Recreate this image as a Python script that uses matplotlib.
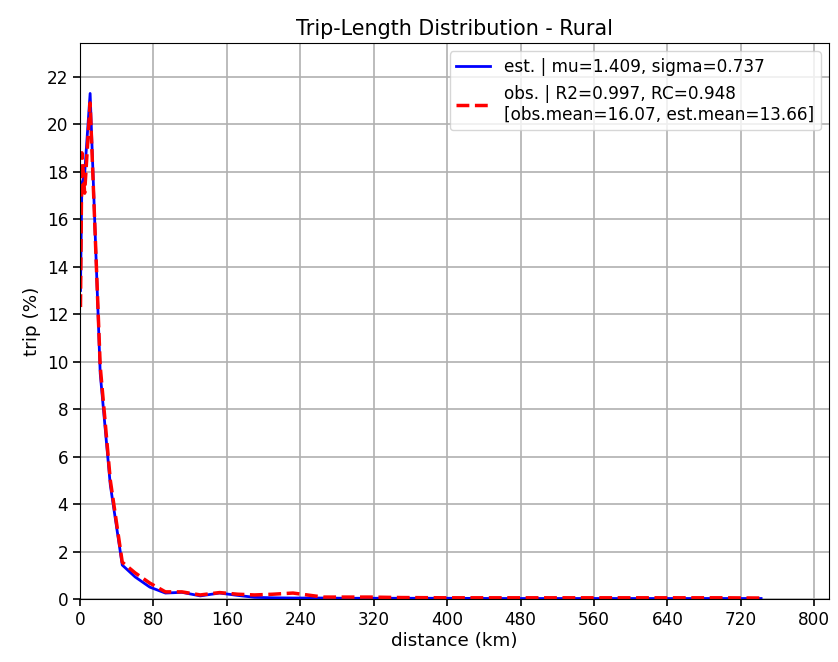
import matplotlib
matplotlib.use("Agg")
import matplotlib.pyplot as plt
import numpy as np

# distance bins (km)
dist = [0.5, 2, 5, 11, 22, 33, 46, 60, 76, 93, 111, 131, 152, 172, 190, 210, 232,
        265, 290, 316, 350, 400, 450, 500, 550, 600, 650, 700, 742]
est = [13.0, 17.5, 17.9, 21.3, 9.5, 4.8, 1.43, 0.93, 0.5, 0.25, 0.28, 0.13, 0.25,
       0.15, 0.07, 0.05, 0.04, 0.04, 0.03, 0.03, 0.03, 0.03, 0.02, 0.02, 0.02, 0.02,
       0.02, 0.02, 0.02]
obs = [12.3, 18.8, 17.1, 20.9, 9.8, 5.0, 1.55, 1.1, 0.67, 0.3, 0.3, 0.17, 0.27,
       0.2, 0.17, 0.2, 0.25, 0.08, 0.08, 0.08, 0.06, 0.05, 0.05, 0.05, 0.05, 0.05,
       0.05, 0.05, 0.04]

title = "Trip-Length Distribution - Rural"
est_label = "est. | mu=1.409, sigma=0.737"
obs_label = "obs. | R2=0.997, RC=0.948\n[obs.mean=16.07, est.mean=13.66]"

fs = 12.2
fig = plt.figure(figsize=(8.38, 6.62), dpi=100)
ax = fig.add_axes([0.0955, 0.0952, 0.894, 0.840])
ax.plot(dist, est, color="blue", lw=2, label=est_label)
ax.plot(dist, obs, color="red", lw=2.5, ls="--", label=obs_label)
ax.set_xlim(0, max(dist) * 1.1)
ax.set_ylim(0, max(est) * 1.1)
ax.set_xticks(np.arange(0, 801, 80))
ax.set_yticks(np.arange(0, 23, 2))
ax.grid(True, color="#b0b0b0", lw=1.2)
ax.tick_params(labelsize=fs, length=5, width=1.2)
ax.set_xlabel("distance (km)", fontsize=13.2, labelpad=2)
ax.set_ylabel("trip (%)", fontsize=13.2)
ax.set_title(title, fontsize=14.9)
ax.legend(loc="upper right", fontsize=fs)
fig.savefig("out.png", dpi=100)
